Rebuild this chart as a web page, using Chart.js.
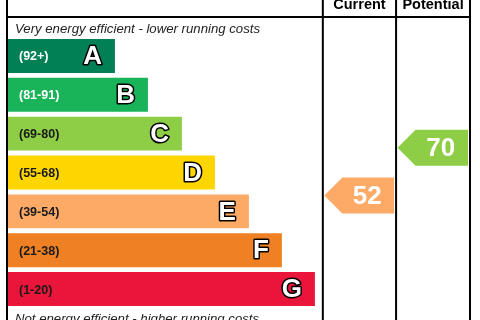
<!DOCTYPE html>
<html>
<head>
<meta charset="utf-8">
<script src="https://cdn.jsdelivr.net/npm/chart.js@4"></script>
<style>
  html, body { margin: 0; padding: 0; background: #fff; }
</style>
</head>
<body>
<canvas id="epcChart" width="480" height="320"></canvas>
<script>
const bands = ["A", "B", "C", "D", "E", "F", "G"];
const bandRanges = ["(92+)", "(81-91)", "(69-80)", "(55-68)", "(39-54)", "(21-38)", "(1-20)"];
const bandMins = [92, 81, 69, 55, 39, 21, 1];
const bandLengths = [32.4, 42.4, 52.7, 62.7, 73, 83, 93];
const bandColors = ["#008054", "#19b459", "#8dce46", "#ffd500", "#fcaa65", "#ef8023", "#e9153b"];
const columns = ["Current", "Potential"];
const ratings = [52, 70];
const topNote = "Very energy efficient - lower running costs";
const bottomNote = "Not energy efficient - higher running costs";

// column edges in x-scale units
const colEdges = [95.4, 117.6, 140];
const FONT = "'Liberation Sans', Arial, sans-serif";

function colourFor(score) {
  const i = bandMins.findIndex((m) => score >= m);
  return bandColors[i < 0 ? bandColors.length - 1 : i];
}

const epcTable = {
  id: "epcTable",
  afterDatasetsDraw(chart) {
    const { ctx, chartArea, scales } = chart;
    const x = scales.x;
    const yScore = scales.yScore;
    const meta = chart.getDatasetMeta(0);
    ctx.save();

    // band labels
    meta.data.forEach((bar, i) => {
      const p = bar.getProps(["x", "y", "base"], true);
      ctx.textBaseline = "middle";
      ctx.textAlign = "left";
      ctx.font = "bold 12.5px " + FONT;
      ctx.fillStyle = i < 2 ? "#ffffff" : "#1a1a1a";
      ctx.fillText(bandRanges[i], p.base + 11, p.y + 1);

      ctx.textAlign = "right";
      ctx.font = "bold 26px " + FONT;
      ctx.lineJoin = "round";
      ctx.lineWidth = 3;
      ctx.strokeStyle = "#000";
      ctx.strokeText(bands[i], p.x - 13, p.y + 1);
      ctx.fillStyle = "#ffffff";
      ctx.fillText(bands[i], p.x - 13, p.y + 1);
    });

    // rating arrows
    ratings.forEach((r, i) => {
      const left = x.getPixelForValue(colEdges[i]) + 1.5;
      const right = x.getPixelForValue(colEdges[i + 1]) - 2;
      const cy = yScore.getPixelForValue(r);
      const h = 18;
      ctx.beginPath();
      ctx.moveTo(left, cy);
      ctx.lineTo(left + h, cy - h);
      ctx.lineTo(right, cy - h);
      ctx.lineTo(right, cy + h);
      ctx.lineTo(left + h, cy + h);
      ctx.closePath();
      ctx.fillStyle = colourFor(r);
      ctx.fill();
      ctx.fillStyle = "#ffffff";
      ctx.font = "bold 26px " + FONT;
      ctx.textAlign = "center";
      ctx.textBaseline = "middle";
      ctx.fillText(String(r), (left + h + right) / 2 - 1, cy + 1);
    });

    // table lines
    const leftEdge = chartArea.left - 1;
    const rightEdge = x.getPixelForValue(colEdges[2]);
    ctx.strokeStyle = "#000";
    ctx.lineWidth = 2;
    ctx.beginPath();
    [leftEdge, ...colEdges.map((c) => x.getPixelForValue(c))].forEach((px) => {
      ctx.moveTo(px, 0);
      ctx.lineTo(px, chart.height);
    });
    ctx.moveTo(leftEdge, chartArea.top - 19.5);
    ctx.lineTo(rightEdge, chartArea.top - 19.5);
    ctx.stroke();

    // headers
    ctx.fillStyle = "#000";
    ctx.font = "bold 14.5px " + FONT;
    ctx.textAlign = "center";
    ctx.textBaseline = "alphabetic";
    columns.forEach((c, i) => {
      const mid = (x.getPixelForValue(colEdges[i]) + x.getPixelForValue(colEdges[i + 1])) / 2;
      ctx.fillText(c, mid, 9);
    });

    // notes
    ctx.fillStyle = "#222";
    ctx.font = "italic 13.2px " + FONT;
    ctx.textAlign = "left";
    ctx.fillText(topNote, chartArea.left + 7, chartArea.top - 3.5);
    ctx.fillText(bottomNote, chartArea.left + 7, chartArea.bottom + 14.5);
    ctx.restore();
  },
};

new Chart(document.getElementById("epcChart"), {
  type: "bar",
  data: {
    labels: bands,
    datasets: [
      {
        data: bandLengths,
        backgroundColor: bandColors,
        borderWidth: 0,
        barPercentage: 0.874,
        categoryPercentage: 1,
      },
    ],
  },
  options: {
    indexAxis: "y",
    responsive: false,
    animation: false,
    events: [],
    layout: { padding: { left: 8, right: 10, top: 36.5, bottom: 11.5 } },
    plugins: { legend: { display: false }, tooltip: { enabled: false } },
    scales: {
      x: { type: "linear", min: 0, max: 140, display: false },
      y: { type: "category", display: false, offset: true },
      yScore: { type: "linear", axis: "y", min: 14, max: 107.3, display: false },
    },
  },
  plugins: [epcTable],
});
</script>
</body>
</html>
